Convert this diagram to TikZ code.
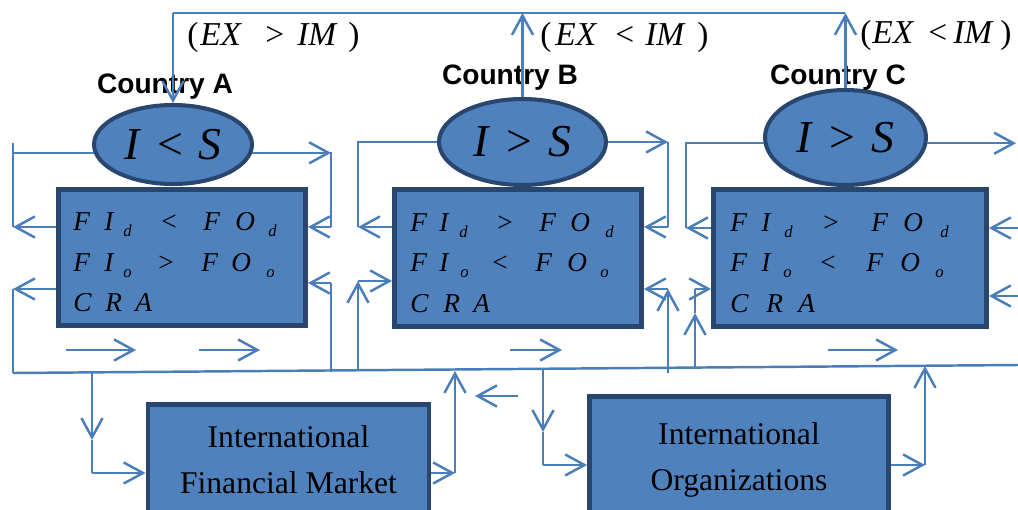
\documentclass[tikz,border=0pt]{standalone}
\usepackage{fontspec}
\setmainfont{Liberation Serif}
\newfontfamily\headfont{Liberation Sans}
\usetikzlibrary{arrows.meta,shapes.geometric}

\definecolor{boxfill}{RGB}{79,129,189}
\definecolor{boxline}{RGB}{40,70,110}
\definecolor{wire}{RGB}{74,126,187}

% one picture pixel
\newlength{\px}\setlength{\px}{0.02cm}
\newcommand{\gl}[2]{\makebox[#2\px][l]{\itshape #1}}
\newcommand{\op}[2]{\makebox[#2\px][l]{#1}}
\newcommand{\sub}[2]{\makebox[#2\px][l]{\raisebox{-6\px}{\fontsize{9.5}{9.5}\selectfont\itshape #1}}}
\newcommand{\gap}{\hspace{0.35em}}

\begin{document}
\begin{tikzpicture}[x=0.02cm,y=-0.02cm,
    >={Straight Barb[length=11pt,width=12pt]},
    wire/.style={draw=wire,line width=1.4pt},
    country/.style={ellipse,draw=boxline,fill=boxfill,line width=2.3pt,inner sep=0pt,
      font=\fontsize{26}{28}\selectfont},
    panel/.style={rectangle,draw=boxline,fill=boxfill,line width=2.8pt,inner sep=0pt},
    rows/.style={anchor=west,inner sep=0pt,align=left,font=\fontsize{15.5}{23}\selectfont},
    tag/.style={anchor=base,inner sep=0pt,font=\headfont\bfseries\fontsize{16}{18}\selectfont},
    trade/.style={anchor=base west,inner sep=0pt,font=\fontsize{19}{20}\selectfont},
    agent/.style={panel,align=center,font=\fontsize{18}{26}\selectfont}
  ]
  \useasboundingbox (0,0) rectangle (1018,510);
  \clip (0,0) rectangle (1018,510);

  % countries
  \node[panel,minimum width=4.94cm,minimum height=2.72cm] (ra) at (182,257.5) {};
  \node[panel,minimum width=4.94cm,minimum height=2.74cm] (rb) at (518,258) {};
  \node[panel,minimum width=5.46cm,minimum height=2.74cm] (rc) at (850,258) {};
  \node[country,minimum width=3.16cm,minimum height=1.58cm] (ia) at (173,144.5) {\textit{I}\gap<\gap\textit{S}};
  \node[country,minimum width=3.34cm,minimum height=1.72cm] (ib) at (522.5,142) {\textit{I}\gap>\gap\textit{S}};
  \node[country,minimum width=3.22cm,minimum height=1.90cm] (ic) at (845.5,137.5) {\textit{I}\gap>\gap\textit{S}};

  \node[rows] (ta) at ([shift={(17,5)}]ra.west)
    {\gl{F}{31}\gl{I}{19}\sub{d}{38}\op{<}{42}\gl{F}{32}\gl{O}{33}\sub{d}{10}\\
     \gl{F}{31}\gl{I}{19}\sub{o}{35}\op{>}{43}\gl{F}{30}\gl{O}{35}\sub{o}{10}\\
     \gl{C}{32}\gl{R}{30}\gl{A}{10}};
  \node[rows] (tb) at ([shift={(18,5)}]rb.west)
    {\gl{F}{29}\gl{I}{20}\sub{d}{38}\op{>}{42}\gl{F}{31}\gl{O}{35}\sub{d}{10}\\
     \gl{F}{29}\gl{I}{21}\sub{o}{32}\op{<}{43}\gl{F}{32}\gl{O}{33}\sub{o}{10}\\
     \gl{C}{33}\gl{R}{30}\gl{A}{10}};
  \node[rows] (tc) at ([shift={(19,5)}]rc.west)
    {\gl{F}{31}\gl{I}{23}\sub{d}{39}\op{>}{48}\gl{F}{32}\gl{O}{37}\sub{d}{10}\\
     \gl{F}{31}\gl{I}{22}\sub{o}{37}\op{<}{46}\gl{F}{34}\gl{O}{35}\sub{o}{10}\\
     \gl{C}{36}\gl{R}{32}\gl{A}{10}};

  \node[tag] (la) at (165,94) {Country A};
  \node[tag] (lb) at (510,85) {Country B};
  \node[tag] (lc) at (838,85) {Country C};

  \node[trade] (ea) at (187,46) {\op{(}{13}\gl{EX}{65}\op{>}{32}\gl{IM}{51}\op{)}{5}};
  \node[trade] (eb) at (540,46) {\op{(}{15}\gl{EX}{60}\op{<}{30}\gl{IM}{52}\op{)}{5}};
  \node[trade] (ec) at (860,44) {\op{(}{12}\gl{EX}{56}\op{<}{25}\gl{IM}{47}\op{)}{5}};

  % world side
  \node[agent,minimum width=5.62cm,minimum height=2.23cm] (fm) at (288.5,460) {International\\Financial Market};
  \node[agent,minimum width=5.98cm,minimum height=2.55cm] (io) at (739,460) {International\\Organizations};

  % trade line on top
  \coordinate (top-a) at (173,13);
  \coordinate (top-c) at (845,13);
  \draw[wire] (top-a) -- (top-c);
  \draw[wire,->] (top-a) -- (ia.north);
  \draw[wire,->] (ib.north) -- (ib.north |- top-a);
  \draw[wire,->] (ic.north) -- (ic.north |- top-a);

  % common line below
  \coordinate (bus-w) at (13,373);
  \coordinate (bus-e) at (1018,365);
  \draw[wire] (bus-w) -- (bus-e);

  % country A
  \coordinate (a-tick) at (13,143);
  \coordinate (a-w1) at (13,227);
  \coordinate (a-w2) at (13,289);
  \coordinate (a-ne) at (331,152);
  \coordinate (a-e1) at (331,227);
  \coordinate (a-e2) at (331,283);
  \coordinate (a-se) at (331,372);
  \coordinate (a-f1) at (66,350);
  \coordinate (a-f2) at (199,350);
  \draw[wire] (ia.186) -- (ia.186 -| a-tick);
  \draw[wire] (a-tick) -- (a-w1);
  \draw[wire,->] (ra.west |- a-w1) -- (a-w1);
  \draw[wire,->] (ra.west |- a-w2) -- (a-w2);
  \draw[wire] (a-w2) -- (bus-w);
  \draw[wire,->] (ia.-6) -- (ia.-6 -| a-ne);
  \draw[wire] (a-ne) -- (a-e1);
  \draw[wire,->] (a-e1) -- (ra.east |- a-e1);
  \draw[wire] (a-se) -- (a-e2);
  \draw[wire,->] (a-e2) -- (ra.east |- a-e2);
  \draw[wire,->] (a-f1) -- ++(70,0);
  \draw[wire,->] (a-f2) -- ++(61,0);

  % country B
  \coordinate (b-w1) at (358,227);
  \coordinate (b-w2) at (358,281);
  \coordinate (b-sw) at (358,370);
  \coordinate (b-e1) at (668,227);
  \coordinate (b-e2) at (668,289);
  \coordinate (b-se) at (668,373);
  \coordinate (b-f1) at (510,350);
  \draw[wire] (ib.west) -| (b-w1);
  \draw[wire,->] (rb.west |- b-w1) -- (b-w1);
  \draw[wire,->] (b-sw) -- (b-w2);
  \draw[wire,->] (b-w2) -- (rb.west |- b-w2);
  \draw[wire,->] (ib.east) -- (ib.east -| b-e1);
  \draw[wire] (ib.east -| b-e1) -- (b-e1);
  \draw[wire,->] (b-e1) -- (rb.east |- b-e1);
  \draw[wire,->] (b-se) -- (b-e2);
  \draw[wire,->] (b-e2) -- (rb.east |- b-e2);
  \draw[wire,->] (b-f1) -- ++(52,0);

  % country C
  \coordinate (c-w1) at (686,228);
  \coordinate (c-sw) at (695,367);
  \coordinate (c-mid) at (695,313);
  \coordinate (c-w2) at (695,289);
  \coordinate (c-ne) at (1016,143);
  \coordinate (c-e1) at (1018,228);
  \coordinate (c-e2) at (1018,296);
  \coordinate (c-f1) at (828,350);
  \draw[wire] (ic.184) -| (c-w1);
  \draw[wire,->] (rc.west |- c-w1) -- (c-w1);
  \draw[wire,->] (c-sw) -- (c-mid);
  \draw[wire] (c-mid) -- (c-w2);
  \draw[wire,->] (c-w2) -- (rc.west |- c-w2);
  \draw[wire,->] (ic.-4) -- (ic.-4 -| c-ne);
  \draw[wire,->] (c-e1) -- (rc.east |- c-e1);
  \draw[wire,->] (c-e2) -- (rc.east |- c-e2);
  \draw[wire,->] (c-f1) -- ++(70,0);

  % financial market
  \coordinate (m-top) at (92,372);
  \coordinate (m-mid) at (92,440);
  \coordinate (m-bot) at (92,473);
  \coordinate (m-out) at (455,473);
  \coordinate (m-up) at (455,371);
  \coordinate (m-back) at (518,396);
  \draw[wire,->] (m-top) -- (m-mid);
  \draw[wire] (m-mid) -- (m-bot);
  \draw[wire,->] (m-bot) -- (fm.west |- m-bot);
  \draw[wire,->] (fm.east |- m-out) -- (m-out);
  \draw[wire,->] (m-out) -- (m-up);
  \draw[wire,->] (m-back) -- ++(-43,0);

  % organizations
  \coordinate (o-top) at (543,369);
  \coordinate (o-mid) at (543,432);
  \coordinate (o-bot) at (543,465);
  \coordinate (o-out) at (925,465);
  \coordinate (o-up) at (925,366);
  \draw[wire,->] (o-top) -- (o-mid);
  \draw[wire] (o-mid) -- (o-bot);
  \draw[wire,->] (o-bot) -- (io.west |- o-bot);
  \draw[wire,->] (io.east |- o-out) -- (o-out);
  \draw[wire,->] (o-out) -- (o-up);
\end{tikzpicture}
\end{document}
